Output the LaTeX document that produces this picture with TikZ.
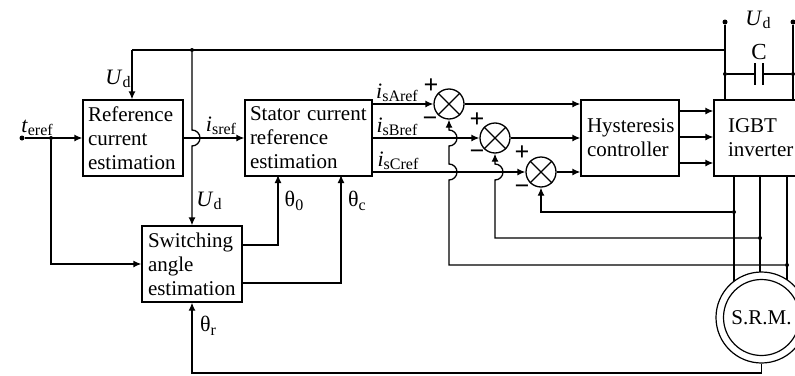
\documentclass[tikz,border=0pt]{standalone}
\usepackage{fontspec}
\setmainfont{Liberation Serif}
\usetikzlibrary{positioning,calc}
\usetikzlibrary{arrows.meta}
\newcommand{\subtext}[1]{\raisebox{-0.35ex}{\fontsize{16}{16}\selectfont #1}}
\newcommand{\ilbl}[2]{\textit{#1}\subtext{#2}}
\tikzset{
	wire/.style={draw=black,line width=1.3pt},
	flow/.style={wire,-{Latex[length=8pt,width=7pt]}},
	block/.style={draw=black,line width=1.3pt,fill=white,inner sep=0pt,align=left,
		font=\fontsize{21}{24}\selectfont},
	sumnode/.style={circle,draw=black,line width=1.3pt,fill=white,minimum size=30pt,inner sep=0pt},
	v/.style={circle,fill=black,inner sep=0pt,minimum size=4pt},
	lbl/.style={inner sep=0pt,font=\fontsize{22}{24}\selectfont},
	sign/.style={inner sep=0pt,font=\fontsize{26}{26}\selectfont\bfseries},
	motorring/.style={circle,draw=black,line width=1.2pt,fill=white,inner sep=0pt},
}

\begin{document}
\begin{tikzpicture}[x=1pt,y=-1pt]
			\path[use as bounding box,clip] (0,0) rectangle (795,375);
			\node[block,minimum width=100pt,minimum height=76pt,text width=90pt] (refbox) at (133,138) {Reference\\current\\estimation};
			\node[block,minimum width=127pt,minimum height=76pt,text width=117pt] (statorbox) at (308.5,138) {Stator current\\reference\\estimation};
			\node[block,minimum width=100pt,minimum height=76pt,text width=88pt] (anglebox) at (192,264) {Switching\\angle\\estimation};
			\node[block,minimum width=98pt,minimum height=76pt,text width=86pt] (hystbox) at (630,138) {Hysteresis\\controller};
			\node[block,minimum width=98pt,minimum height=76pt,text width=70pt] (igbtbox) at (763,138) {IGBT\\inverter};
			\node[sumnode] (sumA) at (449,104) {};
			\node[sumnode] (sumB) at (495,138) {};
			\node[sumnode] (sumC) at (541,172) {};
			\foreach \s in {sumA,sumB,sumC}{
			\draw[wire] (\s.north west)--(\s.south east);
			\draw[wire] (\s.north east)--(\s.south west);
			}
			% supply
			\coordinate (start) at (22,138);
			\coordinate (busleft) at (132,50);
			\node[v] (busdot) at (192,50) {};
			\coordinate (busright) at (725,50);
			\node[v,minimum size=5pt] (termL) at (725,22) {};
			\node[v,minimum size=5pt] (termR) at (793,22) {};
			\node[v] (capL) at (725,74) {};
			\node[v] (capR) at (793,74) {};
			\coordinate (plateL) at (755,74);
			\coordinate (plateR) at (763,74);
			\draw[wire] (busleft)--(busright);
			\draw[flow] (busleft)--(busleft |- refbox.north);
			\draw[wire] (termL)--(termL |- igbtbox.north);
			\draw[wire] (termR)--(termR |- igbtbox.north);
			\draw[wire] (capL)--(plateL);
			\draw[wire] (plateR)--(capR);
			\draw[line width=2.4pt] (755,63)--(755,85);
			\draw[line width=2.4pt] (763,63)--(763,85);
			% references
			\node[v,minimum size=5pt] (startdot) at (start) {};
			\node[v] (split) at (51,138) {};
			\draw[flow] (startdot)--(refbox.west);
			\draw[flow] (split)|-(anglebox.west);
			\draw[flow] (refbox.east)--(statorbox.west);
			\draw[flow] (busdot)--(192,130) arc[start angle=90,end angle=-90,radius=8pt]--(anglebox.north);
			\draw[flow] (anglebox.east |- 0,245)-|(278,175);
			\draw[flow] (anglebox.east |- 0,283)-|(341,175);
			% to the summers
			\draw[flow] (statorbox.east |- sumA)--(sumA.west);
			\draw[flow] (statorbox.east |- sumB)--(sumB.west);
			\draw[flow] (statorbox.east |- sumC)--(sumC.west);
			\foreach \s/\y in {sumA/104,sumB/138,sumC/172}
			\draw[flow] (\s.east)--(hystbox.west |- 0,\y);
			\foreach \y in {111,137,163}
			\draw[flow] (hystbox.east |- 0,\y)--(igbtbox.west |- 0,\y);
			% phase feedback
			\node[v] (tapA) at (787,265) {};
			\node[v] (tapB) at (760,238) {};
			\node[v] (tapC) at (734,212) {};
			\foreach \x in {734,760,787}
			\draw[wire] (\x,175)--(\x,290);
			\draw[flow] (tapA)-|(449,180) arc[start angle=-90,end angle=90,radius=8pt]--(449,146) arc[start angle=-90,end angle=90,radius=8pt]--(sumA.south);
			\draw[flow] (tapB)-|(495,180) arc[start angle=-90,end angle=90,radius=8pt]--(sumB.south);
			\draw[flow] (tapC)-|(sumC.south);
			\node[motorring,minimum size=91pt] (motor) at (761.5,317.5) {};
			\node[motorring,minimum size=76pt,font=\fontsize{21}{24}\selectfont] (motorin) at (761.5,317.5) {S.R.M.};
			\draw[flow] (motor.south)--(761.5,373)-|(anglebox.south);
			% labels
			\node[lbl] (tlbl) at (37,128) {\ilbl{t}{eref}};
			\node[lbl] (udA) at (118,79) {\ilbl{U}{d}};
			\node[lbl] (isref) at (221,126) {\ilbl{i}{sref}};
			\node[lbl] (udB) at (209,201) {\ilbl{U}{d}};
			\node[lbl] (udC) at (758,20) {\ilbl{U}{d}};
			\node[lbl,font=\fontsize{23}{24}\selectfont] (caplbl) at (759,52) {C};
			\node[lbl] (thz) at (294,201) {θ\subtext{0}};
			\node[lbl] (thc) at (357,201) {θ\subtext{c}};
			\node[lbl] (thr) at (208,326) {θ\subtext{r}};
			\node[lbl] (isa) at (397,93) {\ilbl{i}{sAref}};
			\node[lbl] (isb) at (397,127) {\ilbl{i}{sBref}};
			\node[lbl] (isc) at (398,161) {\ilbl{i}{sCref}};
			\foreach \n/\x/\y in {pa/431/86,pb/477/120,pc/522/153}
			\node[sign] (\n) at (\x,\y) {+};
			\foreach \n/\x/\y in {ma/430/122,mb/477/155,mc/522/190}
			\node[sign] (\n) at (\x,\y) {\textminus};
		\end{tikzpicture}
\end{document}
